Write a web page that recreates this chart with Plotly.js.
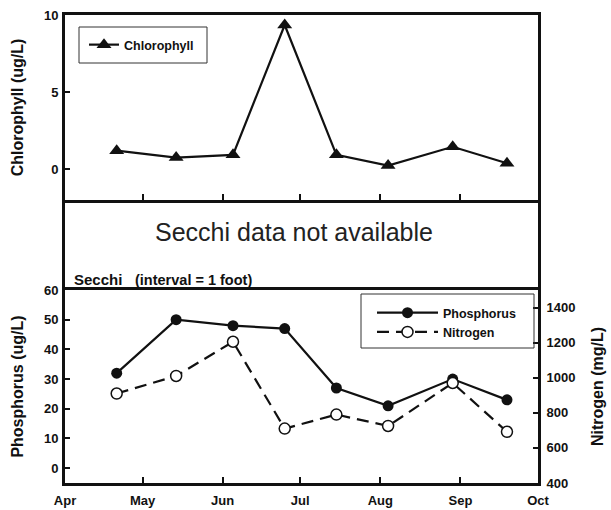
<!DOCTYPE html>
<html>
<head>
<meta charset="utf-8">
<script src="https://cdn.plot.ly/plotly-3.0.1.min.js"></script>
<style>html,body{margin:0;padding:0;background:#fff;}#chart{width:611px;height:510px;}</style>
</head>
<body>
<div id="chart"></div>
<script>
// ---- data ----
const sampleDates = ['2006-04-21','2006-05-14','2006-06-05','2006-06-25','2006-07-15','2006-08-04','2006-08-29','2006-09-19'];
const chlorophyll = [1.2, 0.75, 0.93, 9.35, 0.93, 0.23, 1.45, 0.38];
const phosphorus = [32, 50, 48, 47, 27, 21, 30, 23];
const nitrogen = [910, 1010, 1205, 710, 790, 725, 970, 692];
const monthRange = ['2006-04-01', '2006-10-01'];
const chlTicks = [0, 5, 10];
const phosTicks = [0, 10, 20, 30, 40, 50, 60];
const nitTicks = [400, 600, 800, 1000, 1200, 1400];

const FONT = 'Arial, "Liberation Sans", Helvetica, sans-serif';
const tickFont = {family: FONT, size: 13, color: '#111', weight: 700};
const titleFont = {family: FONT, size: 16, color: '#111', weight: 700};

const traces = [
  {x: sampleDates, y: chlorophyll, name: 'Chlorophyll', type: 'scatter', mode: 'lines+markers',
   xaxis: 'x2', yaxis: 'y2', legend: 'legend',
   line: {color: '#111', width: 2.2},
   marker: {symbol: 'triangle-up', size: 13, color: '#111'}},
  {x: sampleDates, y: phosphorus, name: 'Phosphorus', type: 'scatter', mode: 'lines+markers',
   xaxis: 'x', yaxis: 'y', legend: 'legend2',
   line: {color: '#111', width: 2.2},
   marker: {symbol: 'circle', size: 11, color: '#111'}},
  {x: sampleDates, y: nitrogen, name: 'Nitrogen', type: 'scatter', mode: 'lines+markers',
   xaxis: 'x', yaxis: 'y4', legend: 'legend2',
   line: {color: '#111', width: 2.2, dash: '12px,7px'},
   marker: {symbol: 'circle', size: 11, color: '#fff', line: {color: '#111', width: 1.5}}},
  // empty Secchi panel (no data available)
  {x: [], y: [], name: 'Secchi', type: 'scatter', mode: 'lines', xaxis: 'x3', yaxis: 'y3', showlegend: false}
];

const frame = {showline: true, linecolor: '#111', linewidth: 3, zeroline: false, showgrid: false};

const layout = {
  width: 611, height: 510,
  margin: {l: 65, r: 73, t: 15, b: 27},
  paper_bgcolor: '#fff', plot_bgcolor: '#fff',
  font: {family: FONT, color: '#111'},
  showlegend: true,
  xaxis: Object.assign({}, frame, {
    type: 'date', range: monthRange, anchor: 'y', mirror: true,
    dtick: 'M1', tickformat: '%b', ticks: 'inside', ticklen: 6, tickwidth: 2, tickcolor: '#111',
    tickfont: tickFont, ticklabelstandoff: 3
  }),
  yaxis: Object.assign({}, frame, {
    domain: [0, 0.4124], range: [-5, 60], anchor: 'x',
    tickvals: phosTicks, ticks: 'inside', ticklen: 5, tickwidth: 2, tickcolor: '#111',
    tickfont: tickFont, ticklabelstandoff: 1,
    title: {text: 'Phosphorus (ug/L)', font: titleFont, standoff: 17}
  }),
  yaxis4: Object.assign({}, frame, {
    overlaying: 'y', side: 'right', range: [400, 1500], anchor: 'x',
    tickvals: nitTicks, ticks: 'inside', ticklen: 5, tickwidth: 2, tickcolor: '#111',
    tickfont: tickFont, ticklabelstandoff: 3,
    title: {text: 'Nitrogen (mg/L)', font: titleFont, standoff: 18}
  }),
  xaxis3: {
    type: 'date', range: monthRange, anchor: 'y3', showline: false, showgrid: false, zeroline: false,
    showticklabels: false, ticks: ''
  },
  yaxis3: Object.assign({}, frame, {
    domain: [0.4124, 0.6047], range: [0, 1], anchor: 'x3', mirror: true, showticklabels: false, ticks: ''
  }),
  xaxis2: Object.assign({}, frame, {
    type: 'date', range: monthRange, anchor: 'y2', mirror: true,
    dtick: 'M1', ticks: 'inside', ticklen: 6, tickwidth: 2, tickcolor: '#111', showticklabels: false
  }),
  yaxis2: Object.assign({}, frame, {
    domain: [0.6047, 1], range: [-2, 10], anchor: 'x2', mirror: true,
    tickvals: chlTicks, ticks: 'inside', ticklen: 5, tickwidth: 2, tickcolor: '#111',
    tickfont: tickFont, ticklabelstandoff: 1,
    title: {text: 'Chlorophyll (ug/L)', font: titleFont, standoff: 17}
  }),
  legend: {
    x: (84 - 65) / 473, y: (483 - 45) / 468, xanchor: 'left', yanchor: 'middle',
    bgcolor: 'rgba(0,0,0,0)', borderwidth: 0,
    font: {family: FONT, size: 12.5, color: '#111', weight: 700}, itemwidth: 30
  },
  legend2: {
    x: (372 - 65) / 473, y: (483 - 322.5) / 468, xanchor: 'left', yanchor: 'middle',
    bgcolor: 'rgba(0,0,0,0)', borderwidth: 0, tracegroupgap: 0,
    font: {family: FONT, size: 12.5, color: '#111', weight: 700}, itemwidth: 61
  },
  shapes: [
    {type: 'rect', xref: 'paper', yref: 'paper', x0: (79 - 65) / 473, x1: (207 - 65) / 473,
     y0: (483 - 63) / 468, y1: (483 - 27) / 468, line: {color: '#333', width: 1}, fillcolor: 'rgba(0,0,0,0)'},
    {type: 'rect', xref: 'paper', yref: 'paper', x0: (361 - 65) / 473, x1: (534 - 65) / 473,
     y0: (483 - 348) / 468, y1: (483 - 294) / 468, line: {color: '#333', width: 1}, fillcolor: 'rgba(0,0,0,0)'}
  ],
  annotations: [
    {text: 'Secchi data not available', xref: 'paper', yref: 'paper',
     x: (294 - 65) / 473, y: (483 - 232) / 468, xanchor: 'center', yanchor: 'middle', showarrow: false,
     font: {family: FONT, size: 25, color: '#222'}},
    {text: 'Secchi', xref: 'paper', yref: 'paper',
     x: (72 - 65) / 473, y: (483 - 279) / 468, xanchor: 'left', yanchor: 'middle', showarrow: false,
     font: {family: FONT, size: 15, color: '#111', weight: 700}},
    {text: '(interval = 1 foot)', xref: 'paper', yref: 'paper',
     x: (133 - 65) / 473, y: (483 - 280) / 468, xanchor: 'left', yanchor: 'middle', showarrow: false,
     font: {family: FONT, size: 14.5, color: '#111', weight: 700}}
  ]
};

Plotly.newPlot('chart', traces, layout, {displayModeBar: false, staticPlot: true});
</script>
</body>
</html>
